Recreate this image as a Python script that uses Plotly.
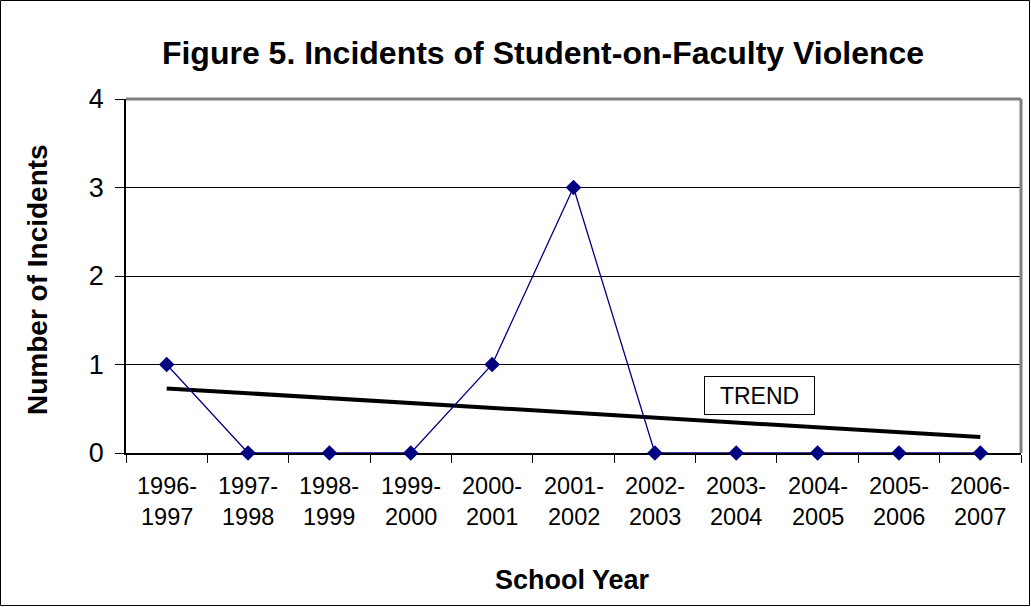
import plotly.graph_objects as go

years_first = ["1996-", "1997-", "1998-", "1999-", "2000-", "2001-", "2002-", "2003-", "2004-", "2005-", "2006-"]
years_second = ["1997", "1998", "1999", "2000", "2001", "2002", "2003", "2004", "2005", "2006", "2007"]
categories = [a + b for a, b in zip(years_first, years_second)]
incidents = [1, 0, 0, 0, 1, 3, 0, 0, 0, 0, 0]
trend_ends = [0.73, 0.18]
y_ticks = [0, 1, 2, 3, 4]

W, H = 1031, 607
L, R, T, B = 126, 10, 99, 154
PW, PH = W - L - R, H - T - B

fig = go.Figure()
fig.add_trace(go.Scatter(
    x=[categories[0], categories[-1]], y=trend_ends, mode="lines",
    line=dict(color="black", width=4), hoverinfo="skip", showlegend=False))
fig.add_trace(go.Scatter(
    x=categories, y=incidents, mode="lines+markers",
    line=dict(color="#000080", width=1.3),
    marker=dict(symbol="diamond", size=12, color="#000080"),
    cliponaxis=False, showlegend=False))

annotations = []
for c, a, b in zip(categories, years_first, years_second):
    annotations.append(dict(x=c, y=0, xref="x", yref="paper", yshift=-33, text=a,
                            showarrow=False, font=dict(size=23.5, color="black"),
                            xanchor="center", yanchor="middle"))
    annotations.append(dict(x=c, y=0, xref="x", yref="paper", yshift=-64, text=b,
                            showarrow=False, font=dict(size=23.5, color="black"),
                            xanchor="center", yanchor="middle"))
annotations.append(dict(x=7.29, y=0.655, xref="x", yref="y", text="TREND",
                        showarrow=False, font=dict(size=23, color="black"),
                        width=105, height=33, borderpad=2,
                        bordercolor="black", borderwidth=1, bgcolor="white"))
annotations.append(dict(x=(572 - L) / PW, y=0, xref="paper", yref="paper", yshift=-(582 - (H - B)) + 2,
                        text="<b>School Year</b>", showarrow=False, font=dict(size=27, color="black"),
                        xanchor="center", yanchor="middle"))
annotations.append(dict(x=(37 - L) / PW, y=(H - B - 280) / PH, xref="paper", yref="paper",
                        text="<b>Number of Incidents</b>", textangle=-90, showarrow=False,
                        font=dict(size=28, color="black"), xanchor="center", yanchor="middle"))

fig.update_layout(
    width=W, height=H,
    margin=dict(l=L, r=R, t=T, b=B),
    paper_bgcolor="white", plot_bgcolor="white",
    font=dict(family="Arial, Liberation Sans, sans-serif", color="black"),
    title=dict(text="<b>Figure 5. Incidents of Student-on-Faculty Violence</b>",
               x=543 / W, xanchor="center", y=1 - 53 / H, yanchor="middle", font=dict(size=32)),
    xaxis=dict(type="category", categoryorder="array", categoryarray=categories,
               range=[-0.5, 10.5], showticklabels=False, tickson="boundaries",
               ticks="outside", ticklen=8, tickcolor="black", tickwidth=1, showgrid=False,
               showline=True, linecolor="black", linewidth=2, zeroline=False,
               layer="below traces"),
    yaxis=dict(range=[0, 4], tickvals=y_ticks, ticks="outside", ticklen=9, tickcolor="black",
               ticklabelstandoff=6,
               showgrid=True, gridcolor="black", gridwidth=1, showline=True, linecolor="black",
               linewidth=1.5, zeroline=False, tickfont=dict(size=27),
               layer="below traces"),
    annotations=annotations,
    shapes=[
        dict(type="line", xref="paper", yref="paper", x0=0, x1=1, y0=1, y1=1,
             line=dict(color="#808080", width=3), layer="above"),
        dict(type="line", xref="paper", yref="paper", x0=1, x1=1, y0=0, y1=1,
             line=dict(color="#808080", width=3), layer="above"),
        dict(type="rect", xref="paper", yref="paper",
             x0=-(L - 0.5) / PW, x1=1 + (R - 1.5) / PW, y0=-(B - 1.5) / PH, y1=1 + (T - 0.5) / PH,
             line=dict(color="black", width=1)),
    ],
)
fig.write_html("out.html", config={"displayModeBar": False},
               post_script="document.body.style.margin='0';document.body.style.padding='0';")
